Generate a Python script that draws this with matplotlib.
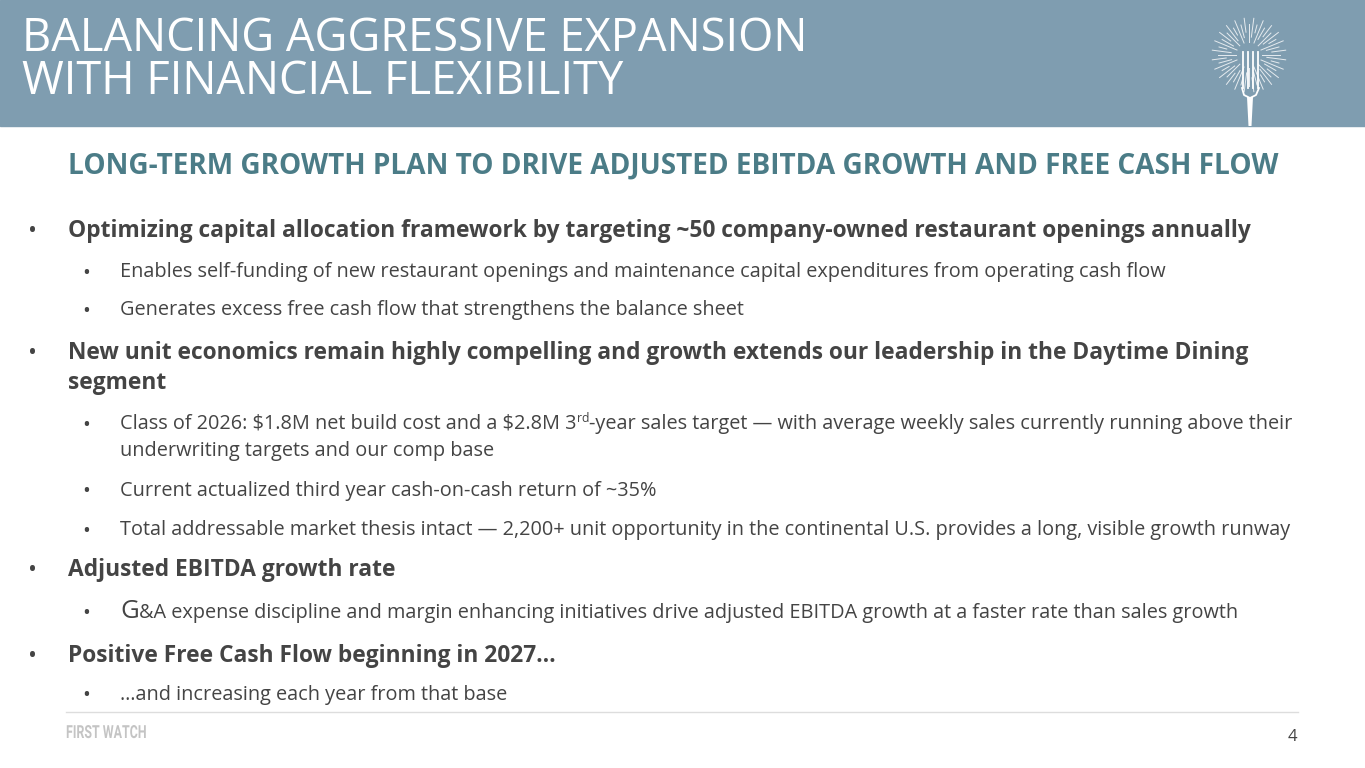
import numpy as np
from matplotlib import pyplot as plt
from matplotlib.textpath import TextPath
from matplotlib.patches import PathPatch
from matplotlib.font_manager import FontProperties
from matplotlib.transforms import Affine2D

W, H = 1365, 768

title_lines = ["BALANCING AGGRESSIVE EXPANSION", "WITH FINANCIAL FLEXIBILITY"]
subtitle = "LONG-TERM GROWTH PLAN TO DRIVE ADJUSTED EBITDA GROWTH AND FREE CASH FLOW"

# (level, text) ; "^" marks superscript segment, "|G|" marks enlarged letter
bullets = [
    (1, "Optimizing capital allocation framework by targeting ~50 company-owned restaurant openings annually"),
    (2, "Enables self-funding of new restaurant openings and maintenance capital expenditures from operating cash flow"),
    (2, "Generates excess free cash flow that strengthens the balance sheet"),
    (1, "New unit economics remain highly compelling and growth extends our leadership in the Daytime Dining\nsegment"),
    (2, "Class of 2026: $1.8M net build cost and a $2.8M 3^rd^-year sales target \u2014 with average weekly sales currently running above their\nunderwriting targets and our comp base"),
    (2, "Current actualized third year cash-on-cash return of ~35%"),
    (2, "Total addressable market thesis intact \u2014 2,200+ unit opportunity in the continental U.S. provides a long, visible growth runway"),
    (1, "Adjusted EBITDA growth rate"),
    (2, "|G|&A expense discipline and margin enhancing initiatives drive adjusted EBITDA growth at a faster rate than sales growth"),
    (1, "Positive Free Cash Flow beginning in 2027\u2026"),
    (2, "\u2026and increasing each year from that base"),
]
bullet_y = [231, 272, 310, 353, 424, 491, 530, 570, 613, 656, 695]
line_gap = [0, 0, 0, 30, 27, 0, 0, 0, 0, 0, 0]

header_color = "#7f9db0"
teal = "#4b7c87"
text_color = "#444444"
font = ["Open Sans", "DejaVu Sans"]

fig = plt.figure(figsize=(W / 100, H / 100), dpi=100)
ax = fig.add_axes([0, 0, 1, 1])
ax.set_xlim(0, W)
ax.set_ylim(H, 0)
ax.axis("off")

# header band
ax.add_patch(plt.Rectangle((0, 0), W, 126, color=header_color, zorder=0))
for i, t in enumerate(title_lines):
    ax.text(22, 39 + i * 43, t, fontsize=32.6, color="white", family=font,
            va="center", ha="left")

# fork + burst logo
cx, cy = 1249, 55
ang = np.linspace(0, 2 * np.pi, 48, endpoint=False)
for k, a in enumerate(ang):
    r0 = 13 + (k % 3) * 5
    r1 = 31 + (k % 2) * 6
    ax.plot([cx + r0 * np.cos(a), cx + r1 * np.cos(a)],
            [cy + r0 * np.sin(a), cy + r1 * np.sin(a)],
            color="white", lw=0.7, alpha=0.8)
for tx in [1243, 1248, 1253, 1258]:
    ax.plot([tx, tx], [52, 88], color="white", lw=1.3)
ax.plot([1242, 1244, 1250, 1256, 1259], [88, 95, 98, 95, 88], color="white", lw=1.3)
ax.fill([1247, 1253, 1251.5, 1248.5], [97, 97, 126, 126], color="white", lw=0)

ax.text(68, 166, subtitle, fontsize=20.2, color=teal, weight="bold",
        family=font, va="center", ha="left")

fig.canvas.draw()
renderer = fig.canvas.get_renderer()


def draw_segments(x, y, text, size, weight):
    # handles ^sup^ and |big| markers inside one line
    parts = []
    buf = ""
    mode = None
    for c in text:
        if c in "^|":
            if buf:
                parts.append((buf, mode))
            buf = ""
            mode = c if mode is None else None
        else:
            buf += c
    if buf:
        parts.append((buf, mode))
    inv = ax.transData.inverted()
    for seg, m in parts:
        s, dy = size, 0
        if m == "^":
            s, dy = size * 0.62, -6
        elif m == "|":
            s, dy = size * 1.3, -1
        t = ax.text(x, y + dy, seg, fontsize=s, color=text_color, weight=weight,
                    family=font, va="center", ha="left", parse_math=False)
        bb = t.get_window_extent(renderer)
        x = inv.transform((bb.x1, bb.y0))[0]


for (lvl, txt), y, gap in zip(bullets, bullet_y, line_gap):
    if lvl == 1:
        bx, tx, size, weight = 33, 68, 16.4, "bold"
    else:
        bx, tx, size, weight = 86, 120, 14.3, "normal"
    ax.text(bx, y + 1, "\u2022", fontsize=size * 1.05, color=text_color,
            family=font, va="center", ha="center")
    for j, ln in enumerate(txt.split("\n")):
        draw_segments(tx, y + j * gap, ln, size, weight)

# footer
ax.plot([66, 1298], [712, 712], color="#dddddd", lw=1)
fp = FontProperties(family="Roboto", weight="bold")
tp = TextPath((0, 0), "FIRST WATCH", size=18, prop=fp)
tr = Affine2D().scale(0.69, -1).translate(66, 738) + ax.transData
ax.add_patch(PathPatch(tp, transform=tr, color="#c4c4c4", lw=0))
ax.text(1297, 737, "4", fontsize=12, color=text_color, family=font,
        va="center", ha="right")

fig.savefig("out.png", dpi=100)
